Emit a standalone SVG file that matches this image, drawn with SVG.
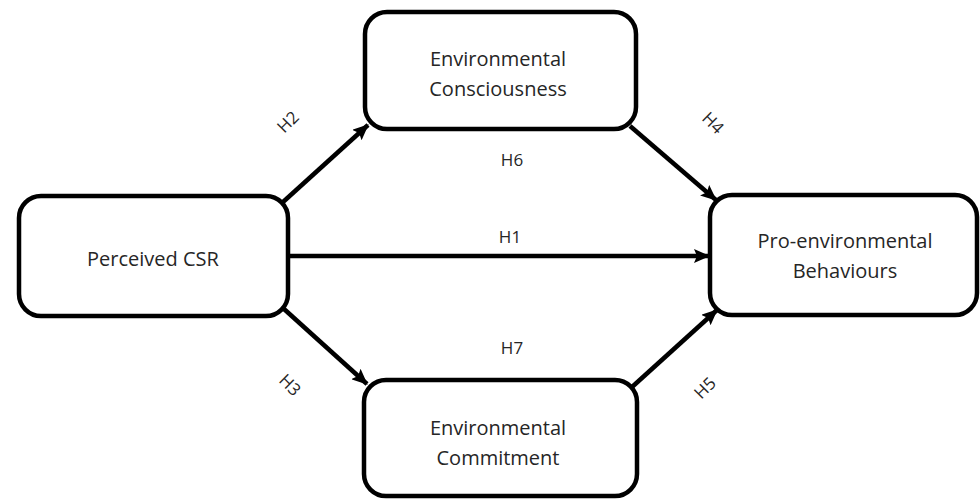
<svg xmlns="http://www.w3.org/2000/svg" width="980" height="499" viewBox="0 0 980 499">
<defs>
<style>
.box{fill:#fff;stroke:#000;stroke-width:4.5}
.t{font-family:"Open Sans","Liberation Sans",sans-serif;font-size:20px;fill:#262626;text-anchor:middle}
.h{font-family:"Open Sans","Liberation Sans",sans-serif;font-size:17px;fill:#262626;text-anchor:middle}
.c{stroke:#000;stroke-width:4.5;fill:none;marker-end:url(#ah)}
</style>
<marker id="ah" markerUnits="userSpaceOnUse" viewBox="0 0 16 14" refX="15" refY="7" markerWidth="16" markerHeight="14" orient="auto">
<path d="M0,0 L16,7 L0,14 L3,7 Z" fill="#000"/>
</marker>
</defs>
<rect width="980" height="499" fill="#fff"/>
<g id="connectors">
<line class="c" x1="283" y1="202" x2="368" y2="125"/>
<line class="c" x1="630" y1="126" x2="716" y2="200"/>
<line class="c" x1="288" y1="256" x2="709" y2="256"/>
<line class="c" x1="284" y1="309" x2="367" y2="384"/>
<line class="c" x1="632" y1="387" x2="717" y2="310"/>
<text class="h" x="288" y="128" transform="rotate(-45 288 122)">H2</text>
<text class="h" x="713" y="129" transform="rotate(45 713 123)">H4</text>
<text class="h" x="512" y="166">H6</text>
<text class="h" x="510" y="243">H1</text>
<text class="h" x="512" y="354">H7</text>
<text class="h" x="290" y="391" transform="rotate(45 290 385)">H3</text>
<text class="h" x="705" y="394" transform="rotate(-45 705 388)">H5</text>
</g>
<g id="csr">
<rect class="box" x="19" y="196" width="269" height="120" rx="22"/>
<text class="t" x="153" y="266">Perceived CSR</text>
</g>
<g id="consciousness">
<rect class="box" x="365" y="12" width="271" height="117" rx="22"/>
<text class="t" x="498" y="66">Environmental</text>
<text class="t" x="498" y="96">Consciousness</text>
</g>
<g id="behaviours">
<rect class="box" x="710" y="195" width="267" height="120" rx="22"/>
<text class="t" x="845" y="248">Pro-environmental</text>
<text class="t" x="845" y="278">Behaviours</text>
</g>
<g id="commitment">
<rect class="box" x="364" y="380" width="273" height="116" rx="22"/>
<text class="t" x="498" y="435">Environmental</text>
<text class="t" x="498" y="465">Commitment</text>
</g>
</svg>
